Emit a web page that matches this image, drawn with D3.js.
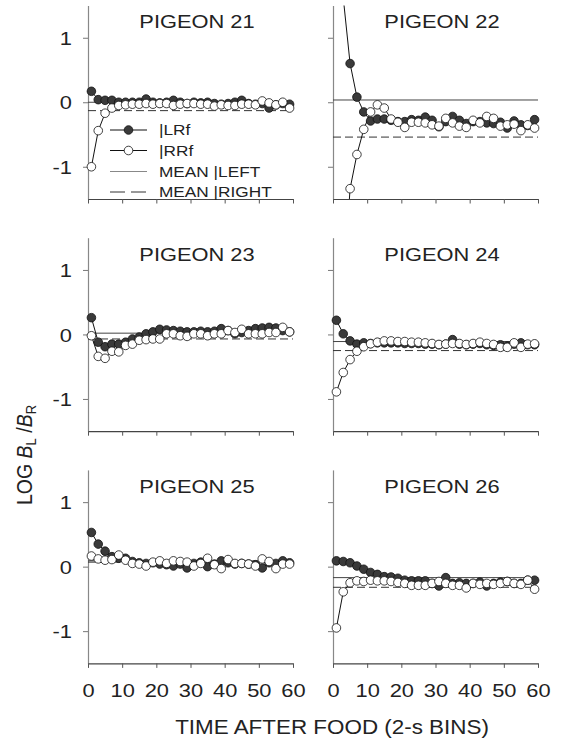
<!DOCTYPE html>
<html><head><meta charset="utf-8">
<script src="https://cdn.jsdelivr.net/npm/d3@7"></script>
<style>
body{margin:0;background:#fff}
text{font-family:"Liberation Sans",Arial,Helvetica,sans-serif;fill:#222}
</style>
</head><body>
<svg id="chart" width="567" height="744"></svg>
<script>
// ---------- data ----------
const bins = [1,3,5,7,9,11,13,15,17,19,21,23,25,27,29,31,33,35,37,39,41,43,45,47,49,51,53,55,57,59];
const panelTitles = ["PIGEON 21","PIGEON 22","PIGEON 23","PIGEON 24","PIGEON 25","PIGEON 26"];
const xTickValues = [0,10,20,30,40,50,60];
const yTickValues = [-1,0,1];
const legendLabels = ["|LRf","|RRf","MEAN |LEFT","MEAN |RIGHT"];
const xTitle = "TIME AFTER FOOD (2-s BINS)";

const p21LRf = [0.17,0.04,0.03,0.03,0.0,0.0,0.0,0.0,0.05,0.0,-0.01,0.0,0.03,0.0,-0.02,0.0,-0.01,0.0,-0.02,-0.03,-0.02,0.0,0.03,-0.02,-0.03,-0.02,-0.09,-0.04,-0.02,-0.03];
const p21RRf = [-1.0,-0.44,-0.17,-0.09,-0.05,-0.04,-0.03,-0.03,-0.02,-0.03,-0.02,-0.02,-0.05,-0.03,-0.02,-0.02,-0.03,-0.03,-0.06,-0.04,-0.05,-0.05,-0.03,-0.03,-0.04,0.02,-0.01,-0.04,0.0,-0.09];
const p22LRf = [2.8,1.62,0.60,0.08,-0.15,-0.29,-0.26,-0.26,-0.28,-0.30,-0.30,-0.27,-0.28,-0.23,-0.28,-0.38,-0.30,-0.22,-0.28,-0.33,-0.30,-0.30,-0.32,-0.33,-0.31,-0.40,-0.29,-0.35,-0.36,-0.27];
const p22RRf = [-3.5,-2.9,-1.34,-0.81,-0.42,-0.15,-0.04,-0.09,-0.26,-0.31,-0.39,-0.31,-0.31,-0.32,-0.35,-0.37,-0.25,-0.32,-0.37,-0.39,-0.28,-0.32,-0.22,-0.25,-0.37,-0.35,-0.34,-0.44,-0.35,-0.40];
const p23LRf = [0.26,-0.12,-0.19,-0.15,-0.15,-0.12,-0.07,-0.04,0.01,0.04,0.08,0.07,0.06,0.05,0.04,0.04,0.05,0.04,0.05,0.09,0.06,0.01,0.03,0.06,0.09,0.10,0.11,0.10,0.06,0.04];
const p23RRf = [-0.02,-0.34,-0.37,-0.26,-0.27,-0.17,-0.15,-0.09,-0.08,-0.07,-0.07,0.01,0.01,-0.02,-0.03,0.01,0.01,-0.02,0.01,0.01,0.06,0.03,0.08,0.01,0.01,0.01,0.03,0.03,0.11,0.04];
const p24LRf = [0.22,0.01,-0.10,-0.15,-0.13,-0.14,-0.13,-0.13,-0.13,-0.13,-0.14,-0.14,-0.14,-0.15,-0.15,-0.16,-0.15,-0.08,-0.15,-0.16,-0.15,-0.14,-0.16,-0.17,-0.16,-0.18,-0.15,-0.13,-0.16,-0.16];
const p24RRf = [-0.89,-0.59,-0.39,-0.26,-0.19,-0.145,-0.12,-0.10,-0.10,-0.11,-0.11,-0.12,-0.12,-0.13,-0.14,-0.155,-0.15,-0.14,-0.14,-0.155,-0.14,-0.12,-0.14,-0.155,-0.20,-0.20,-0.13,-0.20,-0.15,-0.145];
const p25LRf = [0.53,0.35,0.24,0.155,0.13,0.13,0.08,0.06,0.05,0.06,0.04,0.03,0.01,0.04,-0.02,0.05,0.07,0.0,0.04,0.09,0.06,0.04,0.05,0.04,0.03,-0.02,0.06,0.05,0.09,0.06];
const p25RRf = [0.165,0.12,0.10,0.11,0.18,0.10,0.05,0.04,0.01,0.07,0.09,0.05,0.09,0.08,0.07,0.01,0.05,0.13,0.03,-0.03,0.11,0.05,0.05,0.04,0.01,0.12,0.08,-0.03,0.04,0.04];
const p26LRf = [0.09,0.08,0.06,0.01,-0.04,-0.09,-0.12,-0.155,-0.16,-0.18,-0.21,-0.22,-0.22,-0.22,-0.26,-0.30,-0.17,-0.26,-0.25,-0.26,-0.26,-0.24,-0.30,-0.26,-0.24,-0.23,-0.26,-0.26,-0.21,-0.21];
const p26RRf = [-0.95,-0.39,-0.25,-0.22,-0.23,-0.21,-0.22,-0.22,-0.23,-0.245,-0.26,-0.29,-0.29,-0.29,-0.26,-0.23,-0.26,-0.29,-0.29,-0.33,-0.26,-0.275,-0.26,-0.275,-0.26,-0.23,-0.26,-0.275,-0.21,-0.35];

const meanLeft  = [0.0, 0.035, 0.02, -0.11, 0.09, -0.17];
const meanRight = [-0.13, -0.54, -0.07, -0.25, 0.07, -0.32];

const seriesLRf = [p21LRf,p22LRf,p23LRf,p24LRf,p25LRf,p26LRf];
const seriesRRf = [p21RRf,p22RRf,p23RRf,p24RRf,p25RRf,p26RRf];

// ---------- layout ----------
const svg = d3.select("#chart");
const SX = 1.15; // horizontal text stretch
const colX = [88, 333], pw = 205;
const rowY = [5.5, 237.7, 469.9], ph = 193.5;
const FONT = '"Liberation Sans",Arial,Helvetica,sans-serif';

function stretchedText(g, x, y, str, size, anchor){
  return g.append("text")
    .attr("transform", `translate(${x},${y}) scale(${SX},1)`)
    .attr("text-anchor", anchor || "start")
    .attr("font-size", size)
    .text(str);
}

const defs = svg.append("defs");

panelTitles.forEach((title, i) => {
  const col = i % 2, row = Math.floor(i / 2);
  const x = d3.scaleLinear().domain([0,60]).range([colX[col], colX[col] + pw]);
  const y = d3.scaleLinear().domain([-1.5,1.5]).range([rowY[row] + ph, rowY[row]]);
  const g = svg.append("g");

  defs.append("clipPath").attr("id","clip"+i).append("rect")
    .attr("x", colX[col] - 6).attr("y", rowY[row]).attr("width", pw + 12).attr("height", ph);

  // axes
  const yAxis = g.append("g").attr("transform", `translate(${colX[col]},0)`)
    .call(d3.axisLeft(y).tickValues(yTickValues).tickSize(5).tickSizeOuter(0)
      .tickFormat(col === 0 ? (d => String(d)) : ""));
  yAxis.select(".domain").attr("stroke", "#888").attr("stroke-width", 1.2);
  yAxis.selectAll(".tick line").attr("stroke", "#777").attr("stroke-width", 1);
  yAxis.selectAll(".tick text")
    .attr("font-size", 19).attr("fill","#222").attr("x", null).attr("dy", "0.35em")
    .attr("font-family", FONT)
    .attr("transform", `translate(-16,0) scale(${SX},1)`);

  const xAxis = g.append("g").attr("transform", `translate(0,${rowY[row] + ph})`)
    .call(d3.axisBottom(x).tickValues(xTickValues).tickSize(4.5).tickSizeOuter(0)
      .tickFormat(row === 2 ? d3.format("d") : ""));
  xAxis.select(".domain").attr("stroke", "#444").attr("stroke-width", 1.2);
  xAxis.selectAll(".tick line").attr("stroke", "#555").attr("stroke-width", 1);
  xAxis.selectAll(".tick text").attr("font-size", 19).attr("fill","#222")
    .attr("font-family", FONT)
    .attr("y", null).attr("dy", null)
    .attr("transform", `translate(0,33.5) scale(${SX},1)`);

  // title
  stretchedText(g, colX[col] + pw/2 + 6.5, rowY[row] + 22.8, title, 19, "middle");

  const pg = g.append("g").attr("clip-path", `url(#clip${i})`);

  // mean lines
  pg.append("line").attr("x1", x(0)).attr("x2", x(60))
    .attr("y1", y(meanLeft[i])).attr("y2", y(meanLeft[i]))
    .attr("stroke", "#444").attr("stroke-width", 1);
  pg.append("line").attr("x1", x(0)).attr("x2", x(60))
    .attr("y1", y(meanRight[i])).attr("y2", y(meanRight[i]))
    .attr("stroke", "#333").attr("stroke-width", 1).attr("stroke-dasharray", "8,4");

  const line = d3.line().x((d,k) => x(bins[k])).y(d => y(d));
  pg.append("path").datum(seriesLRf[i]).attr("d", line)
    .attr("fill","none").attr("stroke","#111").attr("stroke-width",1);
  pg.append("path").datum(seriesRRf[i]).attr("d", line)
    .attr("fill","none").attr("stroke","#111").attr("stroke-width",1);

  pg.selectAll(".lrf").data(seriesLRf[i]).join("circle")
    .attr("cx", (d,k) => x(bins[k])).attr("cy", d => y(d)).attr("r", 4.3)
    .attr("fill", "#3a3a3a").attr("stroke", "#111").attr("stroke-width", 0.8);
  pg.selectAll(".rrf").data(seriesRRf[i]).join("circle")
    .attr("cx", (d,k) => x(bins[k])).attr("cy", d => y(d)).attr("r", 4.3)
    .attr("fill", "#fff").attr("stroke", "#111").attr("stroke-width", 0.8);

  // legend (panel 21)
  if (i === 0) {
    const lg = svg.append("g");
    const lx1 = 110, lx2 = 147, ly = [130, 150.5, 171.5, 192];
    lg.append("line").attr("x1",lx1).attr("x2",lx2).attr("y1",ly[0]).attr("y2",ly[0]).attr("stroke","#111");
    lg.append("circle").attr("cx",(lx1+lx2)/2).attr("cy",ly[0]).attr("r",4.3).attr("fill","#3a3a3a").attr("stroke","#111").attr("stroke-width",0.8);
    lg.append("line").attr("x1",lx1).attr("x2",lx2).attr("y1",ly[1]).attr("y2",ly[1]).attr("stroke","#111");
    lg.append("circle").attr("cx",(lx1+lx2)/2).attr("cy",ly[1]).attr("r",4.3).attr("fill","#fff").attr("stroke","#111").attr("stroke-width",0.8);
    lg.append("line").attr("x1",lx1).attr("x2",lx2).attr("y1",ly[2]).attr("y2",ly[2]).attr("stroke","#888").attr("stroke-width",1.2);
    lg.append("line").attr("x1",lx1).attr("x2",lx2+2).attr("y1",ly[3]).attr("y2",ly[3]).attr("stroke","#333").attr("stroke-dasharray","15,6");
    legendLabels.forEach((lab, k) => {
      stretchedText(lg, 159, ly[k] + 5.3, lab, 15, "start");
    });
  }
});

// x axis title
stretchedText(svg, 332, 734, xTitle, 19.5, "middle");

// y axis title
const yt = svg.append("text")
  .attr("transform", `translate(31.5,505) scale(${SX},1) rotate(-90)`)
  .attr("font-size", 19.5).attr("text-anchor","start");
yt.append("tspan").text("LOG ");
yt.append("tspan").attr("font-style","italic").text("B");
yt.append("tspan").attr("font-size", 13).attr("dy", 4).text("L");
yt.append("tspan").attr("dy", -4).text(" /");
yt.append("tspan").attr("font-style","italic").text("B");
yt.append("tspan").attr("font-size", 13).attr("dy", 4).text("R");
</script>
</body></html>
